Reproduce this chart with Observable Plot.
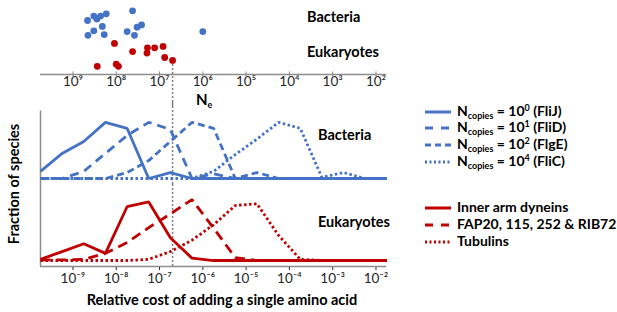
<!DOCTYPE html>
<html><head><meta charset="utf-8">
<script src="https://cdn.jsdelivr.net/npm/d3@7"></script>
<script src="https://cdn.jsdelivr.net/npm/@observablehq/plot@0.6"></script>
<style>
html,body{margin:0;padding:0;background:#fff;}
#wrap{position:relative;width:617px;height:312px;font-family:Lato,"Open Sans",sans-serif;color:#000;overflow:hidden;}
.lbl{position:absolute;font-weight:bold;font-size:14px;white-space:nowrap;line-height:1;}
.lbl sub{font-size:9px;vertical-align:baseline;position:relative;top:3px;}
.lbl sup{font-size:9px;vertical-align:baseline;position:relative;top:-5px;}
.sw{position:absolute;left:425px;width:26px;height:6px;}
#wrap svg text{font-size:13.5px !important;fill:#262626;font-family:Lato,"Open Sans",sans-serif;}
#wrap svg .tick line, #wrap g[aria-label="x-axis tick"]{stroke:#8c8c8c;}
</style>
</head><body>
<div id="wrap"></div>
<script>
// ---- scatter data (Ne of species, vertical jitter) ----
const bacteriaNe     = [4.6e8, 3.3e8, 2.8e8, 2.3e8, 1.7e8, 4.2e7, 2.1e8, 3.3e8, 4.5e8, 1.9e8, 5.6e7, 3.8e7, 3.3e7, 2.6e7, 1.0e6];
const bacteriaJitter = [0.73, 0.79, 0.75, 0.79, 0.82, 0.86, 0.65, 0.59, 0.53, 0.54, 0.58, 0.53, 0.64, 0.67, 0.58];
const eukaryoteNe     = [1.1e8, 4.2e7, 1.9e7, 1.95e7, 1.3e7, 8.3e6, 7.6e6, 5.0e6, 2.75e8, 1.0e8, 8.9e7];
const eukaryoteJitter = [0.42, 0.31, 0.36, 0.29, 0.36, 0.38, 0.23, 0.19, 0.11, 0.14, 0.11];
const thresholdNe = 5e6;

// ---- line data: log10 relative cost grid ----
const logCost = [-9.75, -9.25, -8.75, -8.25, -7.75, -7.25, -6.75, -6.25, -5.75, -5.25, -4.75, -4.25, -3.75, -3.25, -2.75, -2.25, -1.75];
const fliJ = [0.06, 0.21, 0.31, 0.47, 0.42, 0.00, 0.05, 0, 0, 0, 0, 0, 0, 0, 0, 0, 0];
const fliD = [0, 0, 0.06, 0.21, 0.36, 0.47, 0.41, 0, 0.04, 0, 0, 0, 0, 0, 0, 0, 0];
const flgE = [0, 0, 0, 0, 0.05, 0.15, 0.31, 0.47, 0.42, 0, 0.05, 0, 0, 0, 0, 0, 0];
const fliC = [0, 0, 0, 0, 0, 0, 0, 0, 0.06, 0.20, 0.33, 0.47, 0.42, 0.01, 0.05, 0, 0];
const innerArm = [0.01, 0.075, 0.14, 0.06, 0.45, 0.49, 0.19, 0.02, 0, 0, 0, 0, 0, 0, 0, 0, 0];
const fap = [0.005, 0.005, 0.01, 0.06, 0.15, 0.275, 0.39, 0.51, 0.27, 0.025, 0, 0, 0, 0, 0, 0, 0];
const tubulins = [0, 0, 0, 0, 0, 0.01, 0.075, 0.17, 0.30, 0.46, 0.475, 0.21, 0.01, 0, 0, 0, 0];

const neTicks = [1e9, 1e8, 1e7, 1e6, 1e5, 1e4, 1e3, 1e2];
const costTicks = [1e-9, 1e-8, 1e-7, 1e-6, 1e-5, 1e-4, 1e-3, 1e-2];
const groups = ["Bacteria", "Eukaryotes"];

const BLUE = "#4472C4", RED = "#C00000", GRAY = "#8c8c8c";
const supMap = {"-":"⁻","0":"⁰","1":"¹","2":"²","3":"³","4":"⁴","5":"⁵","6":"⁶","7":"⁷","8":"⁸","9":"⁹"};
const pow = d => "10" + String(Math.round(Math.log10(d))).split("").map(c => supMap[c]).join("");

const xMin = 10 ** logCost[0], xMax = 10 ** logCost[logCost.length - 1];
const W = 617, ML = 40, MR = 230.7;
const svgStyle = {position:"absolute", left:"0px", top:"0px", background:"transparent", overflow:"visible", fontFamily:"Lato, 'Open Sans', sans-serif", fontSize:"13.5px", color:"#262626"};

const wrap = document.getElementById("wrap");

// ---- bottom faceted line plot ----
function series(group, vals) {
  return vals.map((v, i) => ({group, cost: 10 ** logCost[i], v}));
}
const lineSpecs = [
  {g:"Bacteria", vals: fliC, stroke: BLUE, dash: "2.5,2.5"},
  {g:"Bacteria", vals: flgE, stroke: BLUE, dash: "7,4"},
  {g:"Bacteria", vals: fliD, stroke: BLUE, dash: "9,6"},
  {g:"Bacteria", vals: fliJ, stroke: BLUE, dash: null},
  {g:"Eukaryotes", vals: tubulins, stroke: RED, dash: "2.5,2.5"},
  {g:"Eukaryotes", vals: fap, stroke: RED, dash: "10,6"},
  {g:"Eukaryotes", vals: innerArm, stroke: RED, dash: null}
];

const linePlot = Plot.plot({
  width: W, height: 312,
  marginLeft: ML, marginRight: MR, marginTop: 101.4, marginBottom: 46,
  style: svgStyle,
  x: {type: "log", domain: [xMin, xMax], ticks: costTicks, tickFormat: pow, tickSize: 4, tickPadding: 3, label: null},
  y: {domain: [-0.05, 0.636], axis: null},
  fy: {domain: groups, padding: 0, axis: null, label: null},
  marks: [
    Plot.ruleX(groups, {fy: d => d, x: () => xMin, y1: -0.05, y2: d => d === "Bacteria" ? 0.565 : 0.636, stroke: GRAY, strokeWidth: 1.5}),
    Plot.ruleY(["Eukaryotes"], {fy: d => d, y: () => -0.05, x1: xMin, x2: xMax, stroke: GRAY, strokeWidth: 1.5}),
    Plot.ruleX([1 / thresholdNe], {stroke: "#7f7f7f", strokeWidth: 1.5, strokeDasharray: "2,2"}),
    ...lineSpecs.map(s => Plot.line(series(s.g, s.vals), {
      x: "cost", y: "v", fy: "group", stroke: s.stroke, strokeWidth: 2.8,
      strokeDasharray: s.dash || undefined, strokeLinejoin: "miter", strokeLinecap: "butt"
    }))
  ]
});
wrap.appendChild(linePlot);

// ---- top scatter plot (Ne axis) ----
const bDots = bacteriaNe.map((ne, i) => ({ne, j: bacteriaJitter[i]}));
const eDots = eukaryoteNe.map((ne, i) => ({ne, j: eukaryoteJitter[i]}));
const scatterPlot = Plot.plot({
  width: W, height: 110,
  marginLeft: ML, marginRight: MR, marginTop: 0, marginBottom: 36,
  style: svgStyle,
  x: {type: "log", domain: [1 / xMin, 1 / xMax], ticks: neTicks, tickFormat: pow, tickSize: 0, tickPadding: 2, label: null},
  y: {domain: [0, 1], axis: null},
  marks: [
    Plot.ruleX([thresholdNe], {y1: 0.19, y2: -0.45, stroke: "#7f7f7f", strokeWidth: 1.5, strokeDasharray: "2,2"}),
    Plot.ruleY([0], {x1: 1 / xMin, x2: 1 / xMax, stroke: GRAY, strokeWidth: 1.5}),
    Plot.ruleX(neTicks, {y1: -0.035, y2: 0.035, stroke: GRAY, strokeWidth: 1}),
    Plot.dot(bDots, {x: "ne", y: "j", r: 3.4, fill: BLUE}),
    Plot.dot(eDots, {x: "ne", y: "j", r: 3.4, fill: RED})
  ]
});
wrap.appendChild(scatterPlot);

// ---- text labels and legend ----
function lbl(html, css) {
  const d = document.createElement("div");
  d.className = "lbl";
  d.innerHTML = html;
  Object.assign(d.style, css);
  wrap.appendChild(d);
  return d;
}
lbl("Bacteria", {left: "307px", top: "10px", fontSize: "14.5px"});
lbl("Eukaryotes", {left: "307px", top: "45px", fontSize: "14.5px"});
lbl("N<sub>e</sub>", {left: "196px", top: "92px", fontSize: "15px"});
lbl("Bacteria", {left: "318px", top: "128px", fontSize: "14.5px"});
lbl("Eukaryotes", {left: "318px", top: "215px", fontSize: "14.5px"});
lbl("Fraction of species", {left: "14px", top: "184px", transform: "translate(-50%,-50%) rotate(-90deg)", fontSize: "14.5px"});
lbl("Relative cost of adding a single amino acid", {left: "222px", top: "293px", transform: "translateX(-50%)", fontSize: "14.5px"});

const legendItems = [
  {html: "N<sub>copies</sub> = 10<sup>0</sup> (FliJ)", color: BLUE, dash: null, y: 111.7},
  {html: "N<sub>copies</sub> = 10<sup>1</sup> (FliD)", color: BLUE, dash: "8,8", y: 128.3},
  {html: "N<sub>copies</sub> = 10<sup>2</sup> (FlgE)", color: BLUE, dash: "6,4", y: 145},
  {html: "N<sub>copies</sub> = 10<sup>4</sup> (FliC)", color: BLUE, dash: "2,2.5", y: 161.7},
  {html: "Inner arm dyneins", color: RED, dash: null, y: 208.3},
  {html: "FAP20, 115, 252 &amp; RIB72", color: RED, dash: "8,8", y: 225},
  {html: "Tubulins", color: RED, dash: "2,2.5", y: 241.7}
];
legendItems.forEach(it => {
  const s = document.createElementNS("http://www.w3.org/2000/svg", "svg");
  s.setAttribute("class", "sw");
  s.setAttribute("width", 26); s.setAttribute("height", 6);
  s.style.top = (it.y - 3) + "px";
  const l = document.createElementNS("http://www.w3.org/2000/svg", "line");
  l.setAttribute("x1", 0); l.setAttribute("x2", 26); l.setAttribute("y1", 3); l.setAttribute("y2", 3);
  l.setAttribute("stroke", it.color); l.setAttribute("stroke-width", 3);
  if (it.dash) l.setAttribute("stroke-dasharray", it.dash);
  s.appendChild(l);
  wrap.appendChild(s);
  lbl(it.html, {left: "457px", top: (it.y - 8) + "px", fontSize: "14px"});
});
</script>
</body></html>
